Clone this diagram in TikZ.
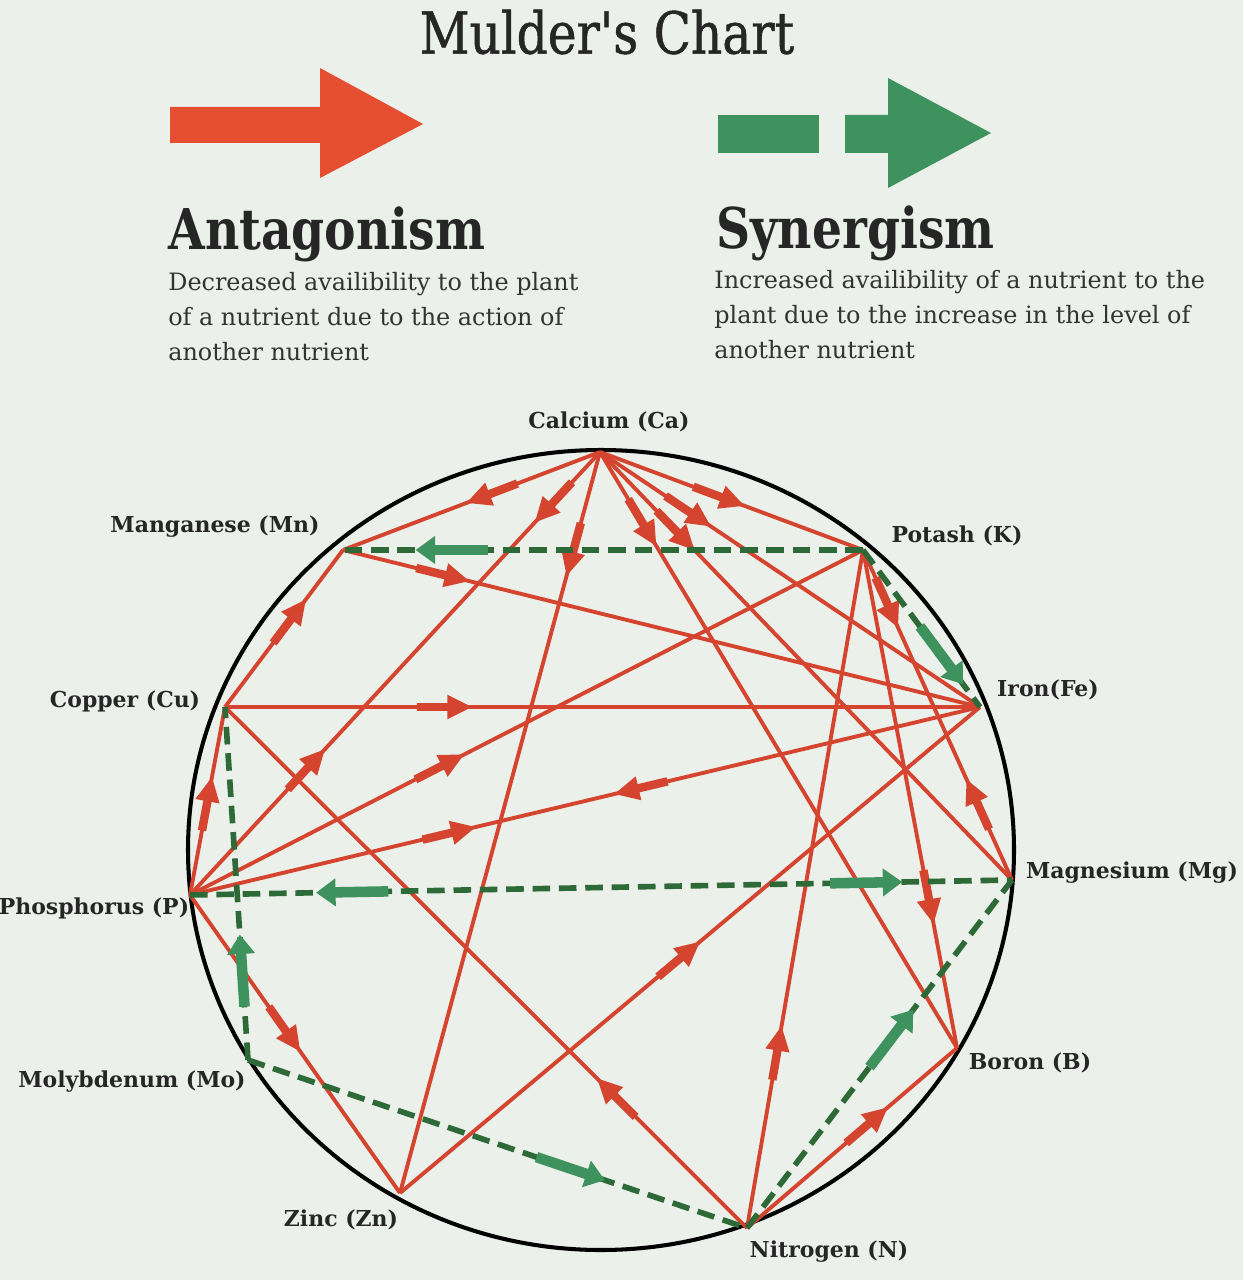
\documentclass[tikz,border=0pt]{standalone}
\usepackage{fontspec}
\setmainfont{DejaVu Serif}
\newfontfamily\titlefont{DejaVu Serif}[FakeStretch=0.84, FakeBold=0.8, Ligatures=TeXOff]
\newfontfamily\headfont{DejaVu Serif}[FakeStretch=0.84]
\usetikzlibrary{decorations.markings}
\definecolor{bg}{RGB}{236,240,234}
\definecolor{antred}{RGB}{212,68,46}
\definecolor{arrred}{RGB}{230,78,50}
\definecolor{syngreen}{RGB}{62,146,94}
\definecolor{dashgreen}{RGB}{46,106,56}
\newcommand\MyRedHead{\fill[antred] (3pt,0) -- (-11pt,7pt) -- (-11pt,-7pt) -- cycle; \fill[antred] (-10pt,-2.4pt) rectangle (-28pt,2.4pt);}
\newcommand\MyRedHeadRev{\fill[antred] (-3pt,0) -- (11pt,7pt) -- (11pt,-7pt) -- cycle; \fill[antred] (10pt,-2.4pt) rectangle (28pt,2.4pt);}
\newcommand\MyGreenHead{\fill[syngreen] (3pt,0) -- (-8pt,8pt) -- (-8pt,-8pt) -- cycle; \fill[syngreen] (-7pt,-3pt) rectangle (-38pt,3pt);}
\newcommand\MyGreenHeadRev{\fill[syngreen] (-3pt,0) -- (8pt,8pt) -- (8pt,-8pt) -- cycle; \fill[syngreen] (7pt,-3pt) rectangle (38pt,3pt);}
\tikzset{
  redline/.style={draw=antred, line width=2.2pt},
  greenline/.style={draw=dashgreen, line width=3.2pt, dash pattern=on 10pt off 5pt},
  rmark/.style={postaction={decorate, decoration={markings, mark=at position #1 with {\MyRedHead}}}},
  rrev/.style={postaction={decorate, decoration={markings, mark=at position #1 with {\MyRedHeadRev}}}},
  gmark/.style={postaction={decorate, decoration={markings, mark=at position #1 with {\MyGreenHead}}}},
  grev/.style={postaction={decorate, decoration={markings, mark=at position #1 with {\MyGreenHeadRev}}}},
  elabel/.style={font=\bfseries\fontsize{12.5}{14}\selectfont, text=black!85, inner sep=0pt},
  bodytext/.style={anchor=north west, align=left, font=\fontsize{13.6}{19.8}\selectfont, text=black!80, inner sep=0pt},
  headtext/.style={anchor=west, font=\headfont\bfseries\fontsize{32}{34}\selectfont, text=black!85, inner sep=0pt},
}
\begin{document}
\begin{tikzpicture}[x=0.02cm, y=-0.02cm]
\fill[bg] (0,0) rectangle (1243,1280);
\useasboundingbox (0,0) rectangle (1243,1280);
% header
\node[font=\titlefont\fontsize{33}{36}\selectfont, text=black!85] (title) at (607,32) {Mulder's Chart};
\fill[arrred] (170,107) -- (320,107) -- (320,68) -- (423,124) -- (320,178) -- (320,143) -- (170,143) -- cycle;
\fill[syngreen] (718,115) rectangle (819,153);
\fill[syngreen] (845,115) -- (888,115) -- (888,78) -- (991,133) -- (888,188) -- (888,153) -- (845,153) -- cycle;
\node[headtext] (ant) at (168,234) {Antagonism};
\node[headtext] (syn) at (716,233) {Synergism};
\node[bodytext] (antd) at (168,272) {Decreased availibility to the plant\\of a nutrient due to the action of\\another nutrient};
\node[bodytext] (synd) at (714,270) {Increased availibility of a nutrient to the\\plant due to the increase in the level of\\another nutrient};
% circle
\draw[black, line width=2.3pt] (601,850) ellipse [x radius=413, y radius=400];
% points
\coordinate (Ca) at (600,452);
\coordinate (Mn) at (343,550);
\coordinate (K) at (863,550);
\coordinate (Cu) at (225,707);
\coordinate (Fe) at (980,707);
\coordinate (P) at (190,895);
\coordinate (Mg) at (1012,880);
\coordinate (Mo) at (248,1060);
\coordinate (B) at (957,1048);
\coordinate (Zn) at (400,1193);
\coordinate (N) at (747,1228);
% labels
\node[elabel] (lCa) at (609,422) {Calcium (Ca)};
\node[elabel] (lMn) at (215,527) {Manganese (Mn)};
\node[elabel] (lK) at (957,536) {Potash (K)};
\node[elabel] (lCu) at (125,701) {Copper (Cu)};
\node[elabel] (lFe) at (1048,690) {Iron(Fe)};
\node[elabel] (lP) at (94,908) {Phosphorus (P)};
\node[elabel] (lMg) at (1132,873) {Magnesium (Mg)};
\node[elabel] (lMo) at (132,1082) {Molybdenum (Mo)};
\node[elabel] (lB) at (1030,1063) {Boron (B)};
\node[elabel] (lZn) at (341,1220) {Zinc (Zn)};
\node[elabel] (lN) at (829,1252) {Nitrogen (N)};
% antagonism (red)
\draw[redline, rmark=0.5] (Ca) -- (Mn);
\draw[redline, rmark=0.15, rrev=0.68] (Ca) -- (P);
\draw[redline, rmark=0.16] (Ca) -- (Zn);
\draw[redline, rmark=0.53] (Ca) -- (K);
\draw[redline, rmark=0.28] (Ca) -- (Fe);
\draw[redline, rmark=0.22] (Ca) -- (Mg);
\draw[redline, rmark=0.15] (Ca) -- (B);
\draw[redline, rmark=0.19] (Mn) -- (Fe);
\draw[redline, rmark=0.66] (Cu) -- (Mn);
\draw[redline, rmark=0.6] (P) -- (Cu);
\draw[redline, rmark=0.32] (Cu) -- (Fe);
\draw[redline, rmark=0.28] (N) -- (Cu);
\draw[redline, rmark=0.4] (P) -- (K);
\draw[redline, rmark=0.355, rrev=0.544] (P) -- (Fe);
\draw[redline, rmark=0.51] (P) -- (Zn);
\draw[redline, rmark=0.51] (Zn) -- (Fe);
\draw[redline, rmark=0.29] (N) -- (K);
\draw[redline, rmark=0.65] (N) -- (B);
\draw[redline, rmark=0.22, rrev=0.71] (K) -- (Mg);
\draw[redline, rmark=0.74] (K) -- (B);
% synergism (green)
\draw[greenline, gmark=0.85] (K) -- (Mn);
\draw[greenline, gmark=0.83] (K) -- (Fe);
\draw[greenline, grev=0.16, gmark=0.86] (P) -- (Mg);
\draw[greenline, gmark=0.34] (Mo) -- (Cu);
\draw[greenline, gmark=0.705] (Mo) -- (N);
\draw[greenline, gmark=0.615] (N) -- (Mg);
\end{tikzpicture}
\end{document}
